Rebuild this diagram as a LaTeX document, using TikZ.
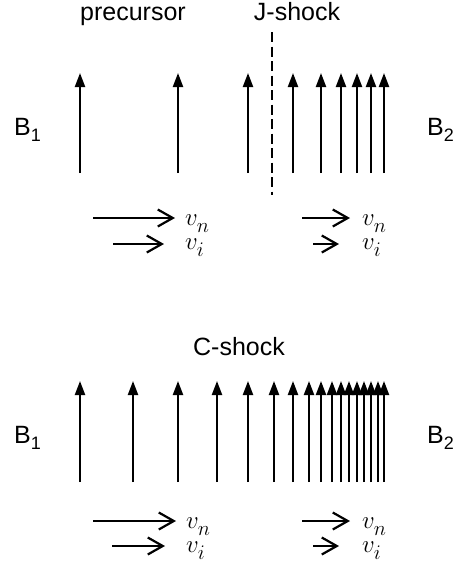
\documentclass[tikz,border=0pt]{standalone}
\usepackage{fontspec}
\setmainfont{Liberation Sans}
\usetikzlibrary{arrows.meta}

\newcommand{\lowsub}[1]{_{\lower3pt\hbox{$\scriptstyle #1$}}}

\begin{document}
\begin{tikzpicture}[x=1pt,y=-1pt,line width=2.2pt,
  field/.style={-{Triangle[length=14pt,width=10pt]}},
  flow/.style={-{Straight Barb[length=15pt,width=17pt]}},
  lbl/.style={font=\fontsize{25}{27}\selectfont,inner sep=0pt,anchor=base},
  vel/.style={font=\fontsize{30}{24}\selectfont,inner sep=0pt,align=left,anchor=north west}]
  \useasboundingbox (0,0) rectangle (454,566);
  % J-shock panel
  \node[lbl] (prec) at (133,20) {precursor};
  \node[lbl] (jshock) at (297,20) {J-shock};
  \node[lbl,anchor=base west] (Btop1) at (13,135) {B\raisebox{-6pt}{\fontsize{18}{18}\selectfont 1}};
  \node[lbl,anchor=base west] (Btop2) at (426,135) {B\raisebox{-6pt}{\fontsize{18}{18}\selectfont 2}};
  \foreach \x in {80,178,248,293,321,341,357,371,384}
    \draw[field] (\x,173) -- (\x,73);
  \draw[dashed,dash pattern=on 10pt off 4.5pt] (272,32) -- (272,195);
  \draw[flow] (93,218) -- (175,218);
  \draw[flow] (113,244) -- (164,244);
  \draw[flow] (302,218) -- (350,218);
  \draw[flow] (313,244) -- (339,244);
  \node[vel] (vtop1) at (184,214) {$v\lowsub{n}$\\$v\lowsub{i}$};
  \node[vel] (vtop2) at (361,214) {$v\lowsub{n}$\\$v\lowsub{i}$};
  % C-shock panel
  \node[lbl] (cshock) at (239,355) {C-shock};
  \node[lbl,anchor=base west] (Bbot1) at (13,443) {B\raisebox{-6pt}{\fontsize{18}{18}\selectfont 1}};
  \node[lbl,anchor=base west] (Bbot2) at (426,443) {B\raisebox{-6pt}{\fontsize{18}{18}\selectfont 2}};
  \foreach \x in {80,133,178,217,248,274,293,309,321,332,341,349,357,364,371,378,384}
    \draw[field] (\x,482) -- (\x,381);
  \draw[flow] (93,521) -- (176,521);
  \draw[flow] (112,546) -- (165,546);
  \draw[flow] (302,521) -- (350,521);
  \draw[flow] (313,546) -- (339,546);
  \node[vel] (vbot1) at (185,517) {$v\lowsub{n}$\\$v\lowsub{i}$};
  \node[vel] (vbot2) at (361,517) {$v\lowsub{n}$\\$v\lowsub{i}$};
\end{tikzpicture}
\end{document}
